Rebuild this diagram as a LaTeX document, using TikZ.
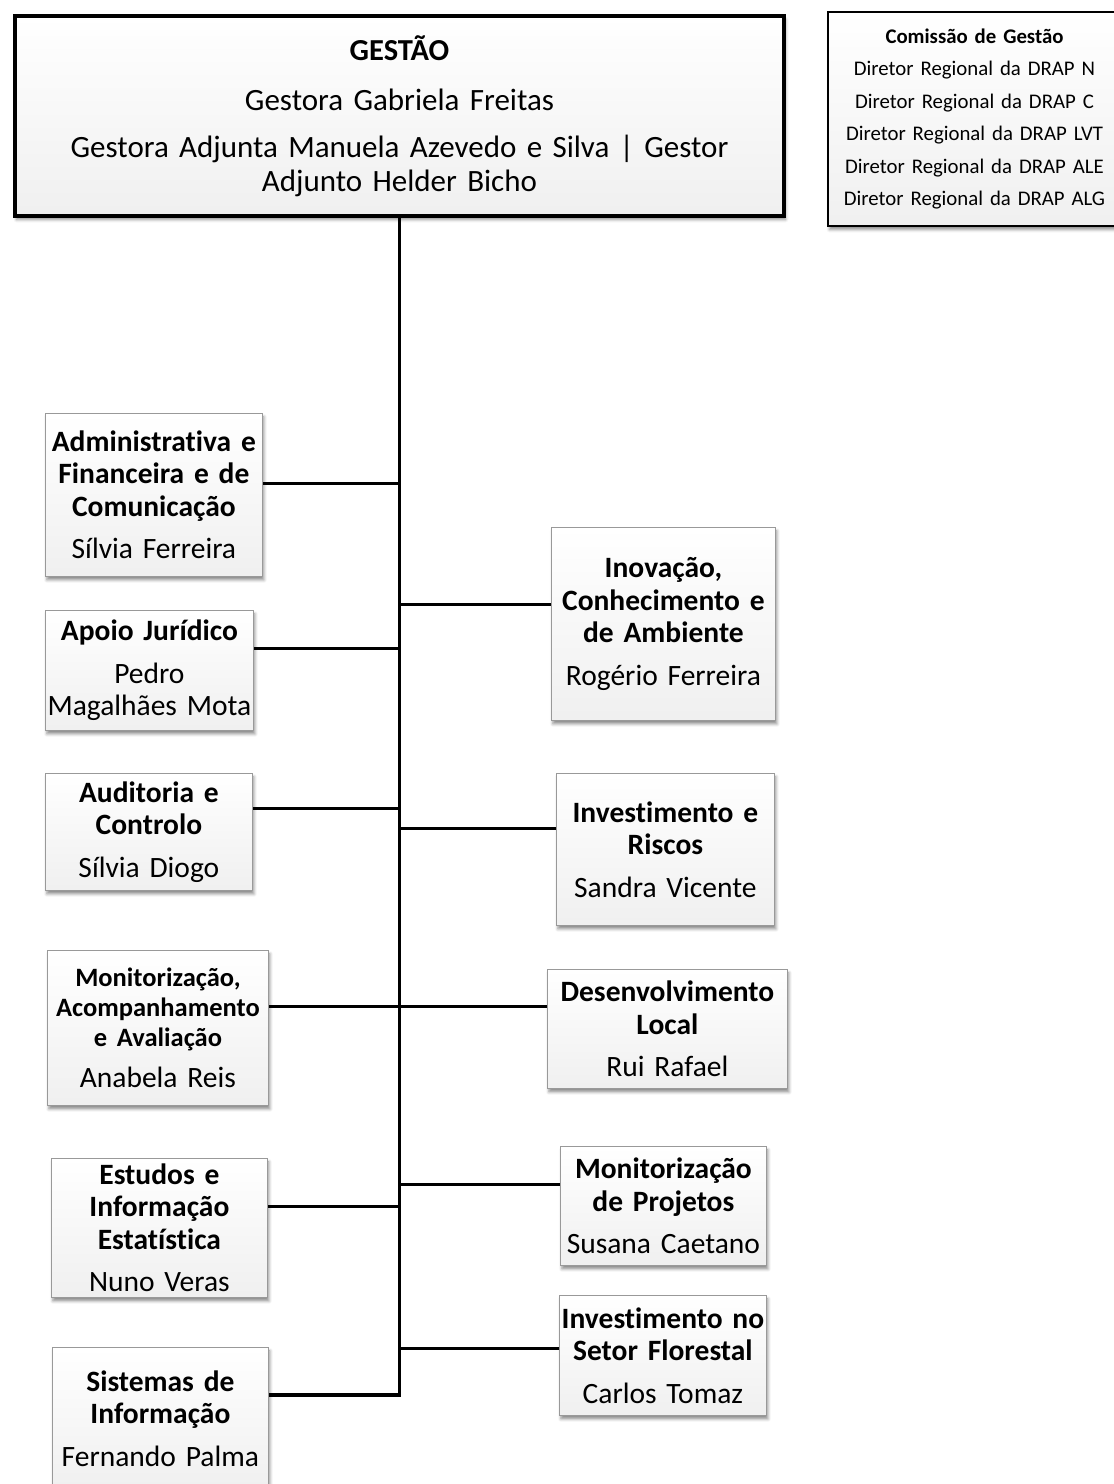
\documentclass[tikz,border=0pt]{standalone}
\usepackage{fontspec}
\setmainfont{Carlito}[Ligatures=NoCommon]
\usetikzlibrary{shadows.blur}
\tikzset{
  boxbase/.style={anchor=north west, inner sep=0pt,
    top color=white, bottom color=black!6,
    blur shadow={shadow xshift=1.5pt, shadow yshift=-3.5pt, shadow blur radius=3pt, shadow opacity=45}},
  unitbox/.style={boxbase, draw=black!40, line width=0.8pt,
    font=\fontsize{29.5}{32.5}\selectfont},
  headbox/.style={boxbase, draw=black, line width=4pt,
    font=\fontsize{31}{34}\selectfont},
  commbox/.style={boxbase, draw=black, line width=2pt,
    font=\fontsize{20.8}{32.5}\selectfont},
  link/.style={line width=3pt, black},
  trunk/.style={line width=3.6pt, black, line join=miter},
}
\newcommand{\orgbox}[7]{%
  \node[unitbox, text width=#4pt, minimum height=#5pt] (#1) at (#2,#3)
    {\centering\hyphenpenalty=10000{\bfseries #6\par}\vspace{10pt}#7\par};}
\begin{document}
\begin{tikzpicture}[x=1pt,y=-1pt]
\useasboundingbox (0,0) rectangle (1114,1484);

% head boxes
\node[headbox, text width=769pt, minimum height=200pt] (top) at (13,14)
  {\centering{\fontsize{30.5}{34}\selectfont\bfseries GESTÃO\par}\vspace{16pt}Gestora Gabriela Freitas\par\vspace{13pt}Gestora Adjunta Manuela Azevedo e Silva | Gestor\\Adjunto Helder Bicho\par};
\node[commbox, text width=293pt, minimum height=214pt] (comm) at (827,11)
  {\centering{\bfseries Comissão de Gestão\par}Diretor Regional da DRAP N\\Diretor Regional da DRAP C\\Diretor Regional da DRAP LVT\\Diretor Regional da DRAP ALE\\Diretor Regional da DRAP ALG\par};

% left units
\orgbox{adm}{45}{413}{217}{163}{Administrativa e\\Financeira e de\\Comunicação}{Sílvia Ferreira}
\orgbox{jur}{45}{610}{208}{120}{Apoio Jurídico}{Pedro\\Magalhães Mota}
\orgbox{aud}{45}{773}{207}{117}{Auditoria e\\Controlo}{Sílvia Diogo}
\node[unitbox, text width=221pt, minimum height=155pt] (mon) at (47,950)
  {\centering{\fontsize{26.5}{30}\selectfont\bfseries Monitorização,\\Acompanhamento\\e Avaliação\par}\vspace{9pt}Anabela Reis\par};
\orgbox{est}{51}{1158}{216}{139}{Estudos e\\Informação\\Estatística}{Nuno Veras}
\orgbox{sis}{52}{1347}{216}{142}{Sistemas de\\Informação}{Fernando Palma}

% right units
\orgbox{ino}{551}{527}{224}{193}{Inovação,\\Conhecimento e\\de Ambiente}{Rogério Ferreira}
\orgbox{inv}{556}{773}{218}{152}{Investimento e\\Riscos}{Sandra Vicente}
\orgbox{des}{547}{969}{240}{119}{Desenvolvimento\\Local}{Rui Rafael}
\orgbox{mpr}{560}{1146}{206}{119}{Monitorização\\de Projetos}{Susana Caetano}
\orgbox{flo}{559}{1295}{207}{120}{Investimento no\\Setor Florestal}{Carlos Tomaz}

% junctions on the trunk
\coordinate (jadm) at (top.south |- 0,483);
\coordinate (jjur) at (top.south |- 0,648);
\coordinate (jaud) at (top.south |- 0,808);
\coordinate (jmon) at (top.south |- 0,1006);
\coordinate (jest) at (top.south |- 0,1206);
\coordinate (jsis) at (top.south |- 0,1395);
\coordinate (jino) at (top.south |- 0,604);
\coordinate (jinv) at (top.south |- 0,828);
\coordinate (jdes) at (top.south |- 0,1006);
\coordinate (jmpr) at (top.south |- 0,1184);
\coordinate (jflo) at (top.south |- 0,1348);

% connectors
\draw[trunk] (top.south) -- (jsis) -- (jsis -| sis.east);
\draw[link] (jadm) -- (jadm -| adm.east);
\draw[link] (jjur) -- (jjur -| jur.east);
\draw[link] (jaud) -- (jaud -| aud.east);
\draw[link] (jmon) -- (jmon -| mon.east);
\draw[link] (jest) -- (jest -| est.east);
\draw[link] (jino) -- (jino -| ino.west);
\draw[link] (jinv) -- (jinv -| inv.west);
\draw[link] (jdes) -- (jdes -| des.west);
\draw[link] (jmpr) -- (jmpr -| mpr.west);
\draw[link] (jflo) -- (jflo -| flo.west);
\end{tikzpicture}
\end{document}
